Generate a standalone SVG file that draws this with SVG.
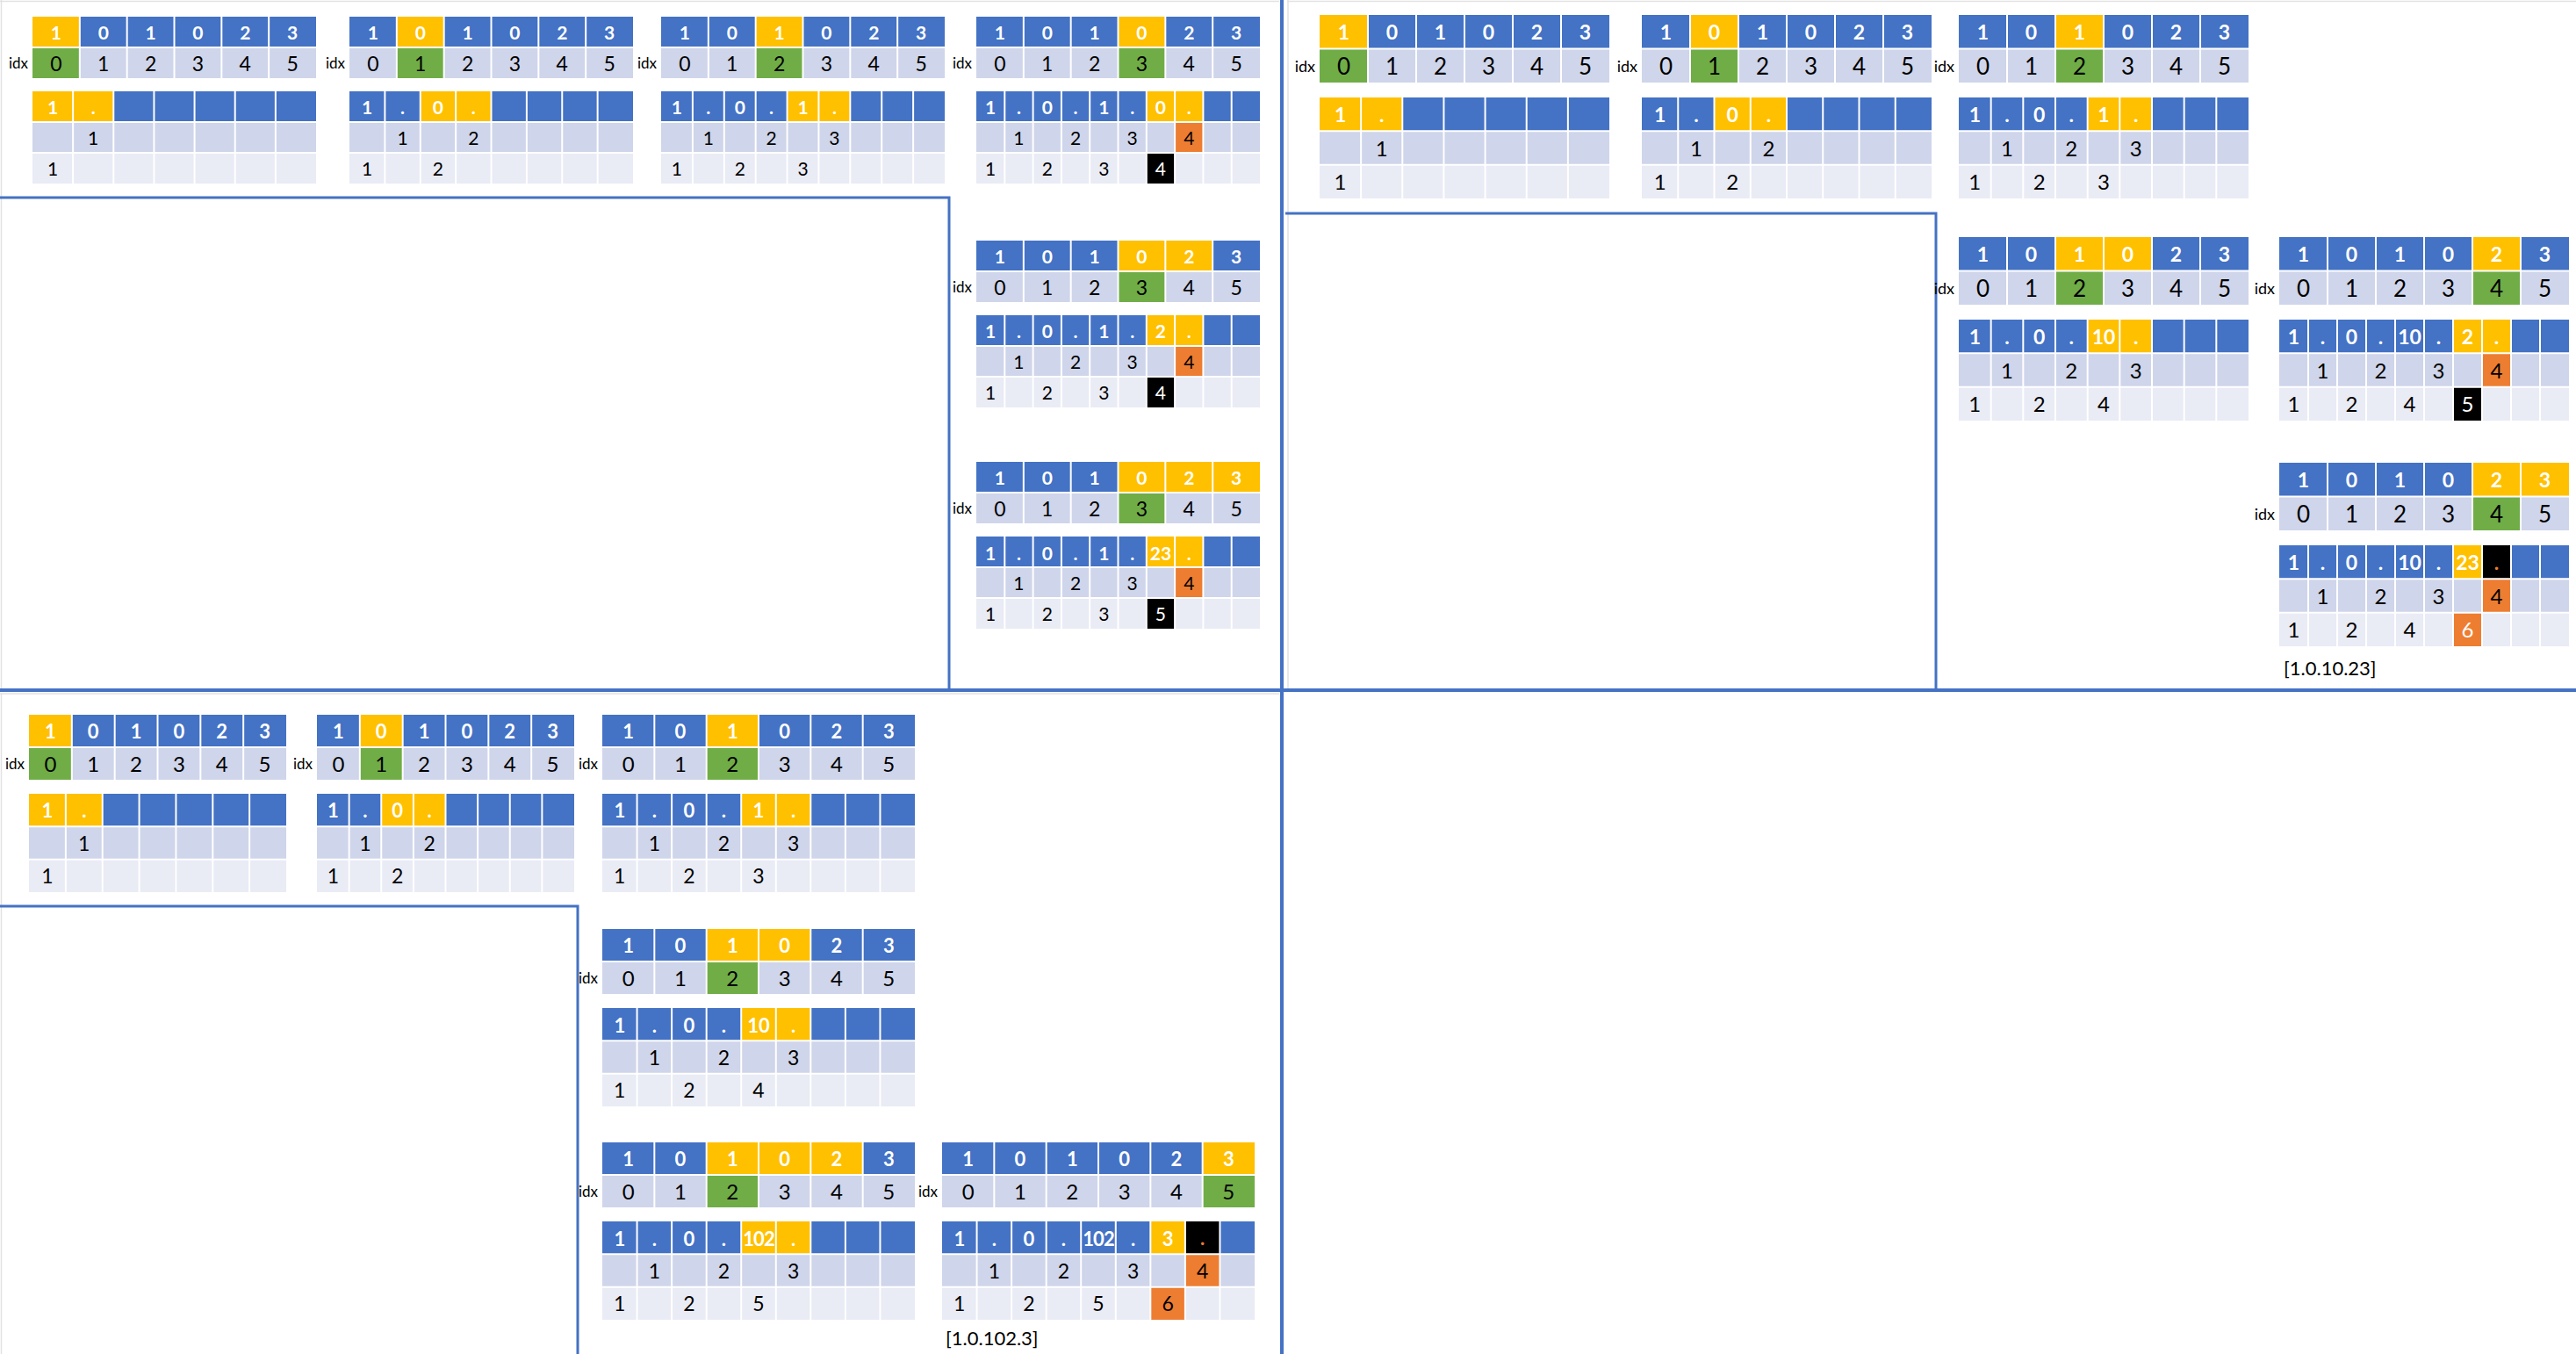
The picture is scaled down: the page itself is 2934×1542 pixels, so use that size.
<svg xmlns="http://www.w3.org/2000/svg" width="2934" height="1542" viewBox="0 0 2934 1542">
<style>
text{font-family:Lato,"Open Sans","Liberation Sans",sans-serif;text-anchor:middle;dominant-baseline:central}
.h{font-weight:bold;fill:#fff}
.n{fill:#000}
.w{fill:#fff}
.dk{fill:#ED7D31;font-weight:bold}
.i{text-anchor:end;fill:#000}
.lbl{text-anchor:start;font-size:22px;fill:#000}
.hb{fill:#4472C4}.r2{fill:#CFD5EA}.r3{fill:#E9EBF5}.y{fill:#FFC000}.g{fill:#70AD47}.o{fill:#ED7D31}.k{fill:#000}
.gr{stroke:#fff;stroke-width:2;fill:none}
.sep{stroke:#4472C4;fill:none}
.frm{stroke:#e2e2e2;stroke-width:1.5;fill:none}
.hA{font-size:21px}.nA{font-size:21px}.tA{font-size:23px}.iA{font-size:17px}
.hB{font-size:23px}.nB{font-size:24px}.tB{font-size:26px}.iB{font-size:18px}
.hC{font-size:22px}.nC{font-size:23px}.tC{font-size:24px}.iC{font-size:17px}
.sq{letter-spacing:-1px}
</style>
<defs>
<g id="tbA"><rect class="hb" width="323" height="35"/><rect class="r2" y="35" width="323" height="35"/></g>
<g id="toA"><path class="gr" d="M53.83 0V70M107.67 0V70M161.5 0V70M215.33 0V70M269.17 0V70M0 35H323"/><text class="h hA" x="26.92 80.75 134.58 188.42 242.25 296.08" y="17.5">101023</text><text class="n tA" x="26.92 80.75 134.58 188.42 242.25 296.08" y="52.5">012345</text><text class="i iA" x="-5" y="52.5">idx</text></g>
<g id="bbA"><rect class="hb" y="85" width="323" height="35"/><rect class="r2" y="120" width="323" height="35"/><rect class="r3" y="155" width="323" height="35"/></g>
<g id="tbB"><rect class="hb" width="330" height="38.5"/><rect class="r2" y="38.5" width="330" height="38.5"/></g>
<g id="toB"><path class="gr" d="M55 0V77M110 0V77M165 0V77M220 0V77M275 0V77M0 38.5H330"/><text class="h hB" x="27.5 82.5 137.5 192.5 247.5 302.5" y="19.25">101023</text><text class="n tB" x="27.5 82.5 137.5 192.5 247.5 302.5" y="57.75">012345</text><text class="i iB" x="-5" y="57.75">idx</text></g>
<g id="bbB"><rect class="hb" y="94" width="330" height="38.33"/><rect class="r2" y="132.33" width="330" height="38.34"/><rect class="r3" y="170.67" width="330" height="38.33"/></g>
<g id="tbS"><rect class="hb" width="293" height="37"/><rect class="r2" y="37" width="293" height="37"/></g>
<g id="toS"><path class="gr" d="M48.83 0V74M97.67 0V74M146.5 0V74M195.33 0V74M244.17 0V74M0 37H293"/><text class="h hC" x="24.42 73.25 122.08 170.92 219.75 268.58" y="18.5">101023</text><text class="n tC" x="24.42 73.25 122.08 170.92 219.75 268.58" y="55.5">012345</text><text class="i iC" x="-5" y="55.5">idx</text></g>
<g id="bbS"><rect class="hb" y="90" width="293" height="37.33"/><rect class="r2" y="127.33" width="293" height="37.34"/><rect class="r3" y="164.67" width="293" height="37.33"/></g>
<g id="tbL"><rect class="hb" width="356" height="37"/><rect class="r2" y="37" width="356" height="37"/></g>
<g id="toL"><path class="gr" d="M59.33 0V74M118.67 0V74M178 0V74M237.33 0V74M296.67 0V74M0 37H356"/><text class="h hC" x="29.67 89 148.33 207.67 267 326.33" y="18.5">101023</text><text class="n tC" x="29.67 89 148.33 207.67 267 326.33" y="55.5">012345</text><text class="i iC" x="-5" y="55.5">idx</text></g>
<g id="bbL"><rect class="hb" y="90" width="356" height="37.33"/><rect class="r2" y="127.33" width="356" height="37.34"/><rect class="r3" y="164.67" width="356" height="37.33"/></g>
<path id="gA7" class="gr" d="M46.14 85V190M92.29 85V190M138.43 85V190M184.57 85V190M230.71 85V190M276.86 85V190M0 120H323M0 155H323"/>
<path id="gA8" class="gr" d="M40.38 85V190M80.75 85V190M121.13 85V190M161.5 85V190M201.88 85V190M242.25 85V190M282.63 85V190M0 120H323M0 155H323"/>
<path id="gA9" class="gr" d="M35.89 85V190M71.78 85V190M107.67 85V190M143.56 85V190M179.44 85V190M215.33 85V190M251.22 85V190M287.11 85V190M0 120H323M0 155H323"/>
<path id="gA10" class="gr" d="M32.3 85V190M64.6 85V190M96.9 85V190M129.2 85V190M161.5 85V190M193.8 85V190M226.1 85V190M258.4 85V190M290.7 85V190M0 120H323M0 155H323"/>
<path id="gB7" class="gr" d="M47.14 94V209M94.29 94V209M141.43 94V209M188.57 94V209M235.71 94V209M282.86 94V209M0 132.33H330M0 170.67H330"/>
<path id="gB8" class="gr" d="M41.25 94V209M82.5 94V209M123.75 94V209M165 94V209M206.25 94V209M247.5 94V209M288.75 94V209M0 132.33H330M0 170.67H330"/>
<path id="gB9" class="gr" d="M36.67 94V209M73.33 94V209M110 94V209M146.67 94V209M183.33 94V209M220 94V209M256.67 94V209M293.33 94V209M0 132.33H330M0 170.67H330"/>
<path id="gB10" class="gr" d="M33 94V209M66 94V209M99 94V209M132 94V209M165 94V209M198 94V209M231 94V209M264 94V209M297 94V209M0 132.33H330M0 170.67H330"/>
<path id="gS7" class="gr" d="M41.86 90V202M83.71 90V202M125.57 90V202M167.43 90V202M209.29 90V202M251.14 90V202M0 127.33H293M0 164.67H293"/>
<path id="gS8" class="gr" d="M36.63 90V202M73.25 90V202M109.88 90V202M146.5 90V202M183.13 90V202M219.75 90V202M256.38 90V202M0 127.33H293M0 164.67H293"/>
<path id="gL9" class="gr" d="M39.56 90V202M79.11 90V202M118.67 90V202M158.22 90V202M197.78 90V202M237.33 90V202M276.89 90V202M316.44 90V202M0 127.33H356M0 164.67H356"/>
</defs>
<rect width="2934" height="1542" fill="#fff"/>
<g id="separators">
<path class="frm" d="M0 1.5H1457M1.5 0V784M1466 1.5H2934M1467 0V784M0 790H1457M1.5 790V1542"/>
<path class="sep" stroke-width="4" d="M1460 0V1542M0 786H2934"/>
<path class="sep" stroke-width="3" d="M0 225H1081V786M1464 243H2205V786M0 1032H658V1542"/>
</g>

<g id="A1" transform="translate(37,19)"><use href="#tbA"/><rect class="y" width="53.83" height="35"/><rect class="g" y="35" width="53.83" height="35"/><use href="#toA"/><use href="#bbA"/><rect class="y" y="85" width="92.29" height="35"/><use href="#gA7"/><text class="h hA" x="23.07 69.21" y="102.5">1.</text><text class="n nA" x="69.21" y="137.5">1</text><text class="n nA" x="23.07" y="172.5">1</text></g>

<g id="A2" transform="translate(398,19)"><use href="#tbA"/><rect class="y" x="53.83" width="53.83" height="35"/><rect class="g" x="53.83" y="35" width="53.83" height="35"/><use href="#toA"/><use href="#bbA"/><rect class="y" x="80.75" y="85" width="80.75" height="35"/><use href="#gA8"/><text class="h hA" x="20.19 60.56 100.94 141.31" y="102.5">1.0.</text><text class="n nA" x="60.56 141.31" y="137.5">12</text><text class="n nA" x="20.19 100.94" y="172.5">12</text></g>

<g id="A3" transform="translate(753,19)"><use href="#tbA"/><rect class="y" x="107.67" width="53.83" height="35"/><rect class="g" x="107.67" y="35" width="53.83" height="35"/><use href="#toA"/><use href="#bbA"/><rect class="y" x="143.56" y="85" width="71.78" height="35"/><use href="#gA9"/><text class="h hA" x="17.94 53.83 89.72 125.61 161.5 197.39" y="102.5">1.0.1.</text><text class="n nA" x="53.83 125.61 197.39" y="137.5">123</text><text class="n nA" x="17.94 89.72 161.5" y="172.5">123</text></g>

<g id="A4" transform="translate(1112,19)"><use href="#tbA"/><rect class="y" x="161.5" width="53.83" height="35"/><rect class="g" x="161.5" y="35" width="53.83" height="35"/><use href="#toA"/><use href="#bbA"/><rect class="y" x="193.8" y="85" width="64.6" height="35"/><rect class="o" x="226.1" y="120" width="32.3" height="35"/><rect class="k" x="193.8" y="155" width="32.3" height="35"/><use href="#gA10"/><text class="h hA" x="16.15 48.45 80.75 113.05 145.35 177.65 209.95 242.25" y="102.5">1.0.1.0.</text><text class="n nA" x="48.45 113.05 177.65 242.25" y="137.5">1234</text><text class="n nA" x="16.15 80.75 145.35" y="172.5">123</text><text class="w nA" x="209.95" y="172.5">4</text></g>

<g id="A5" transform="translate(1112,274)"><use href="#tbA"/><rect class="y" x="161.5" width="107.67" height="35"/><rect class="g" x="161.5" y="35" width="53.83" height="35"/><use href="#toA"/><use href="#bbA"/><rect class="y" x="193.8" y="85" width="64.6" height="35"/><rect class="o" x="226.1" y="120" width="32.3" height="35"/><rect class="k" x="193.8" y="155" width="32.3" height="35"/><use href="#gA10"/><text class="h hA" x="16.15 48.45 80.75 113.05 145.35 177.65 209.95 242.25" y="102.5">1.0.1.2.</text><text class="n nA" x="48.45 113.05 177.65 242.25" y="137.5">1234</text><text class="n nA" x="16.15 80.75 145.35" y="172.5">123</text><text class="w nA" x="209.95" y="172.5">4</text></g>

<g id="A6" transform="translate(1112,526)"><use href="#tbA"/><rect class="y" x="161.5" width="161.5" height="35"/><rect class="g" x="161.5" y="35" width="53.83" height="35"/><use href="#toA"/><use href="#bbA"/><rect class="y" x="193.8" y="85" width="64.6" height="35"/><rect class="o" x="226.1" y="120" width="32.3" height="35"/><rect class="k" x="193.8" y="155" width="32.3" height="35"/><use href="#gA10"/><text class="h hA" y="102.5"><tspan x="16.15 48.45 80.75 113.05 145.35 177.65">1.0.1.</tspan><tspan x="209.95">23</tspan><tspan x="242.25">.</tspan></text><text class="n nA" x="48.45 113.05 177.65 242.25" y="137.5">1234</text><text class="n nA" x="16.15 80.75 145.35" y="172.5">123</text><text class="w nA" x="209.95" y="172.5">5</text></g>

<g id="B1" transform="translate(1503,17)"><use href="#tbB"/><rect class="y" width="55" height="38.5"/><rect class="g" y="38.5" width="55" height="38.5"/><use href="#toB"/><use href="#bbB"/><rect class="y" y="94" width="94.29" height="38.33"/><use href="#gB7"/><text class="h hB" x="23.57 70.71" y="113.17">1.</text><text class="n nB" x="70.71" y="151.5">1</text><text class="n nB" x="23.57" y="189.83">1</text></g>

<g id="B2" transform="translate(1870,17)"><use href="#tbB"/><rect class="y" x="55" width="55" height="38.5"/><rect class="g" x="55" y="38.5" width="55" height="38.5"/><use href="#toB"/><use href="#bbB"/><rect class="y" x="82.5" y="94" width="82.5" height="38.33"/><use href="#gB8"/><text class="h hB" x="20.63 61.88 103.13 144.38" y="113.17">1.0.</text><text class="n nB" x="61.88 144.38" y="151.5">12</text><text class="n nB" x="20.63 103.13" y="189.83">12</text></g>

<g id="B3" transform="translate(2231,17)"><use href="#tbB"/><rect class="y" x="110" width="55" height="38.5"/><rect class="g" x="110" y="38.5" width="55" height="38.5"/><use href="#toB"/><use href="#bbB"/><rect class="y" x="146.67" y="94" width="73.33" height="38.33"/><use href="#gB9"/><text class="h hB" x="18.33 55 91.67 128.33 165 201.67" y="113.17">1.0.1.</text><text class="n nB" x="55 128.33 201.67" y="151.5">123</text><text class="n nB" x="18.33 91.67 165" y="189.83">123</text></g>

<g id="B4" transform="translate(2231,270)"><use href="#tbB"/><rect class="y" x="110" width="110" height="38.5"/><rect class="g" x="110" y="38.5" width="55" height="38.5"/><use href="#toB"/><use href="#bbB"/><rect class="y" x="146.67" y="94" width="73.33" height="38.33"/><use href="#gB9"/><text class="h hB" y="113.17"><tspan x="18.33 55 91.67 128.33">1.0.</tspan><tspan x="165">10</tspan><tspan x="201.67">.</tspan></text><text class="n nB" x="55 128.33 201.67" y="151.5">123</text><text class="n nB" x="18.33 91.67 165" y="189.83">124</text></g>

<g id="B5" transform="translate(2596,270)"><use href="#tbB"/><rect class="y" x="220" width="55" height="38.5"/><rect class="g" x="220" y="38.5" width="55" height="38.5"/><use href="#toB"/><use href="#bbB"/><rect class="y" x="198" y="94" width="66" height="38.33"/><rect class="o" x="231" y="132.33" width="33" height="38.34"/><rect class="k" x="198" y="170.67" width="33" height="38.33"/><use href="#gB10"/><text class="h hB" y="113.17"><tspan x="16.5 49.5 82.5 115.5">1.0.</tspan><tspan x="148.5">10</tspan><tspan x="181.5 214.5 247.5">.2.</tspan></text><text class="n nB" x="49.5 115.5 181.5 247.5" y="151.5">1234</text><text class="n nB" x="16.5 82.5 148.5" y="189.83">124</text><text class="w nB" x="214.5" y="189.83">5</text></g>

<g id="B6" transform="translate(2596,527)"><use href="#tbB"/><rect class="y" x="220" width="110" height="38.5"/><rect class="g" x="220" y="38.5" width="55" height="38.5"/><use href="#toB"/><use href="#bbB"/><rect class="y" x="198" y="94" width="33" height="38.33"/><rect class="k" x="231" y="94" width="33" height="38.33"/><rect class="o" x="231" y="132.33" width="33" height="38.34"/><rect class="o" x="198" y="170.67" width="33" height="38.33"/><use href="#gB10"/><text class="h hB" y="113.17"><tspan x="16.5 49.5 82.5 115.5">1.0.</tspan><tspan x="148.5">10</tspan><tspan x="181.5">.</tspan><tspan x="214.5">23</tspan></text><text class="dk hB" x="247.5" y="113.17">.</text><text class="n nB" x="49.5 115.5 181.5 247.5" y="151.5">1234</text><text class="n nB" x="16.5 82.5 148.5" y="189.83">124</text><text class="w nB" x="214.5" y="189.83">6</text><text class="lbl" x="5" y="233">[1.0.10.23]</text></g>

<g id="C1" transform="translate(33,814)"><use href="#tbS"/><rect class="y" width="48.83" height="37"/><rect class="g" y="37" width="48.83" height="37"/><use href="#toS"/><use href="#bbS"/><rect class="y" y="90" width="83.71" height="37.33"/><use href="#gS7"/><text class="h hC" x="20.93 62.79" y="108.67">1.</text><text class="n nC" x="62.79" y="146">1</text><text class="n nC" x="20.93" y="183.33">1</text></g>

<g id="C2" transform="translate(361,814)"><use href="#tbS"/><rect class="y" x="48.83" width="48.83" height="37"/><rect class="g" x="48.83" y="37" width="48.83" height="37"/><use href="#toS"/><use href="#bbS"/><rect class="y" x="73.25" y="90" width="73.25" height="37.33"/><use href="#gS8"/><text class="h hC" x="18.31 54.94 91.56 128.19" y="108.67">1.0.</text><text class="n nC" x="54.94 128.19" y="146">12</text><text class="n nC" x="18.31 91.56" y="183.33">12</text></g>

<g id="C3" transform="translate(686,814)"><use href="#tbL"/><rect class="y" x="118.67" width="59.33" height="37"/><rect class="g" x="118.67" y="37" width="59.33" height="37"/><use href="#toL"/><use href="#bbL"/><rect class="y" x="158.22" y="90" width="79.11" height="37.33"/><use href="#gL9"/><text class="h hC" x="19.78 59.33 98.89 138.44 178 217.56" y="108.67">1.0.1.</text><text class="n nC" x="59.33 138.44 217.56" y="146">123</text><text class="n nC" x="19.78 98.89 178" y="183.33">123</text></g>

<g id="C4" transform="translate(686,1058)"><use href="#tbL"/><rect class="y" x="118.67" width="118.67" height="37"/><rect class="g" x="118.67" y="37" width="59.33" height="37"/><use href="#toL"/><use href="#bbL"/><rect class="y" x="158.22" y="90" width="79.11" height="37.33"/><use href="#gL9"/><text class="h hC" y="108.67"><tspan x="19.78 59.33 98.89 138.44">1.0.</tspan><tspan x="178">10</tspan><tspan x="217.56">.</tspan></text><text class="n nC" x="59.33 138.44 217.56" y="146">123</text><text class="n nC" x="19.78 98.89 178" y="183.33">124</text></g>

<g id="C5" transform="translate(686,1301)"><use href="#tbL"/><rect class="y" x="118.67" width="178" height="37"/><rect class="g" x="118.67" y="37" width="59.33" height="37"/><use href="#toL"/><use href="#bbL"/><rect class="y" x="158.22" y="90" width="79.11" height="37.33"/><use href="#gL9"/><text class="h hC" y="108.67"><tspan x="19.78 59.33 98.89 138.44">1.0.</tspan><tspan class="sq" x="178">102</tspan><tspan x="217.56">.</tspan></text><text class="n nC" x="59.33 138.44 217.56" y="146">123</text><text class="n nC" x="19.78 98.89 178" y="183.33">125</text></g>

<g id="C6" transform="translate(1073,1301)"><use href="#tbL"/><rect class="y" x="296.67" width="59.33" height="37"/><rect class="g" x="296.67" y="37" width="59.33" height="37"/><use href="#toL"/><use href="#bbL"/><rect class="y" x="237.33" y="90" width="39.56" height="37.33"/><rect class="k" x="276.89" y="90" width="39.56" height="37.33"/><rect class="o" x="276.89" y="127.33" width="39.56" height="37.34"/><rect class="o" x="237.33" y="164.67" width="39.56" height="37.33"/><use href="#gL9"/><text class="h hC" y="108.67"><tspan x="19.78 59.33 98.89 138.44">1.0.</tspan><tspan class="sq" x="178">102</tspan><tspan x="217.56 257.11">.3</tspan></text><text class="dk hC" x="296.67" y="108.67">.</text><text class="n nC" x="59.33 138.44 217.56 296.67" y="146">1234</text><text class="n nC" x="19.78 98.89 178 257.11" y="183.33">1256</text><text class="lbl" x="4" y="222">[1.0.102.3]</text></g>
</svg>
